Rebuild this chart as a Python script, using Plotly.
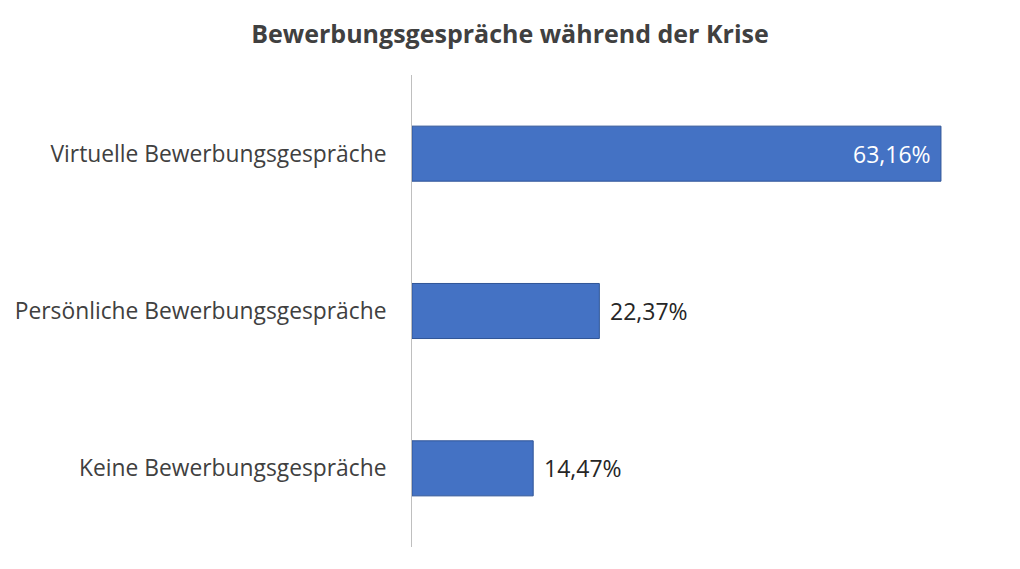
import plotly.graph_objects as go

categories = ["Virtuelle Bewerbungsgespräche", "Persönliche Bewerbungsgespräche", "Keine Bewerbungsgespräche"]
values = [63.16, 22.37, 14.47]
labels = ["63,16%", "22,37%", "14,47%"]
title = "Bewerbungsgespräche während der Krise"

fig = go.Figure(go.Bar(
    x=values, y=categories, orientation="h",
    marker=dict(color="#4472C4", line=dict(color="#2F5597", width=1)),
    hoverinfo="x+y",
))

for cat, v, lab in zip(categories, values, labels):
    inside = v > 40
    fig.add_annotation(
        x=v, y=cat, text=lab, showarrow=False,
        xanchor="right" if inside else "left", yanchor="middle",
        xshift=-8 if inside else 9,
        font=dict(family="Open Sans", size=23, color="white" if inside else "#262626"),
    )

fig.update_layout(
    width=1020, height=569,
    paper_bgcolor="white", plot_bgcolor="white",
    margin=dict(l=412, r=5, t=75, b=22),
    title=dict(text="<b>" + title + "</b>", x=0.5, xanchor="center", y=1 - 34/569, yanchor="middle",
               font=dict(family="Open Sans", size=25, color="#404040")),
    bargap=0.65,
    showlegend=False,
)
fig.update_xaxes(range=[0, 72], visible=False)
fig.update_yaxes(autorange="reversed", showline=True, linecolor="#BFBFBF", linewidth=1,
                 ticks="", ticklabelstandoff=20, showgrid=False,
                 tickfont=dict(family="Open Sans", size=22.8, color="#404040"))

fig.write_html("out.html")
